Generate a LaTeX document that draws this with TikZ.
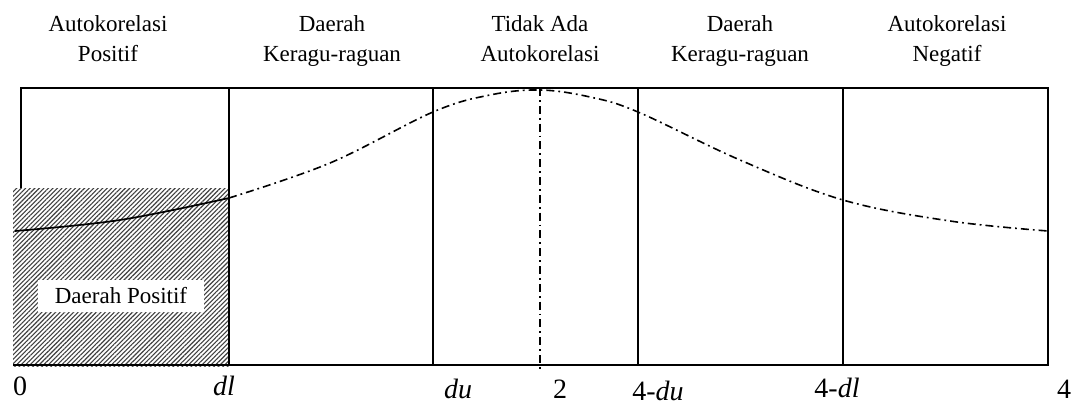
\documentclass[tikz,border=0pt]{standalone}
\usepackage{fontspec}
\setmainfont{Liberation Serif}
\usetikzlibrary{patterns.meta}
\begin{document}
\begin{tikzpicture}[x=1pt,y=-1pt,
  frame/.style={line width=1.6pt},
  dashdot/.style={line width=1.6pt, dash pattern=on 8pt off 4pt on 1.8pt off 4pt},
  head/.style={anchor=base, inner sep=0pt, font=\fontsize{23}{27}\selectfont},
  axislab/.style={anchor=base, inner sep=0pt, font=\fontsize{28}{32}\selectfont},
  hatch/.style={pattern={Lines[angle=45,distance=3.2pt,line width=1.1pt]}, pattern color=black!75},
]
\useasboundingbox (0,0) rectangle (1074,404);

% header labels
\node[head] (h1a) at (108,32) {Autokorelasi};
\node[head] (h1b) at (108,62) {Positif};
\node[head] (h2a) at (332,32) {Daerah};
\node[head] (h2b) at (332,62) {Keragu-raguan};
\node[head] (h3a) at (540,32) {Tidak Ada};
\node[head] (h3b) at (540,62) {Autokorelasi};
\node[head] (h4a) at (740,32) {Daerah};
\node[head] (h4b) at (740,62) {Keragu-raguan};
\node[head] (h5a) at (947,32) {Autokorelasi};
\node[head] (h5b) at (947,62) {Negatif};

% frame and region dividers
\draw[frame] (21,88) rectangle (1048,365);
\foreach \x in {433,638,843} \draw[frame] (\x,88) -- (\x,365);

% hatched positive region
\fill[white] (13,188) rectangle (229,366);
\fill[hatch] (13,188) rectangle (229,366);
\draw[frame] (13,365) -- (229,365);
\draw[frame] (229,88) -- (229,365);

% solid curve inside hatched region
\draw[line width=1.7pt] plot[smooth, tension=0.6] coordinates {(15,231) (120,220) (229,198)};

% dash-dot distribution curve
\draw[dashdot] plot[smooth, tension=0.6] coordinates {(229,198) (330,163) (433,112) (490,95) (540,90) (590,97) (638,112) (740,160) (843,200) (950,221) (1048,231)};

% centre line
\draw[dashdot] (540,88) -- (540,372);

% label inside hatch
\node[fill=white, inner sep=0pt, minimum width=166pt, minimum height=32pt,
      font=\fontsize{23}{27}\selectfont] (pos) at (121,296) {Daerah Positif};

% axis labels
\node[axislab] (l0) at (20,395) {0};
\node[axislab] (ldl) at (224,395) {\itshape dl};
\node[axislab] (ldu) at (458,398) {\itshape du};
\node[axislab] (l2) at (560,398) {2};
\node[axislab] (l4du) at (658,400) {4-\textit{du}};
\node[axislab] (l4dl) at (837,397) {4-\textit{dl}};
\node[axislab] (l4) at (1064,398) {4};
\end{tikzpicture}
\end{document}
